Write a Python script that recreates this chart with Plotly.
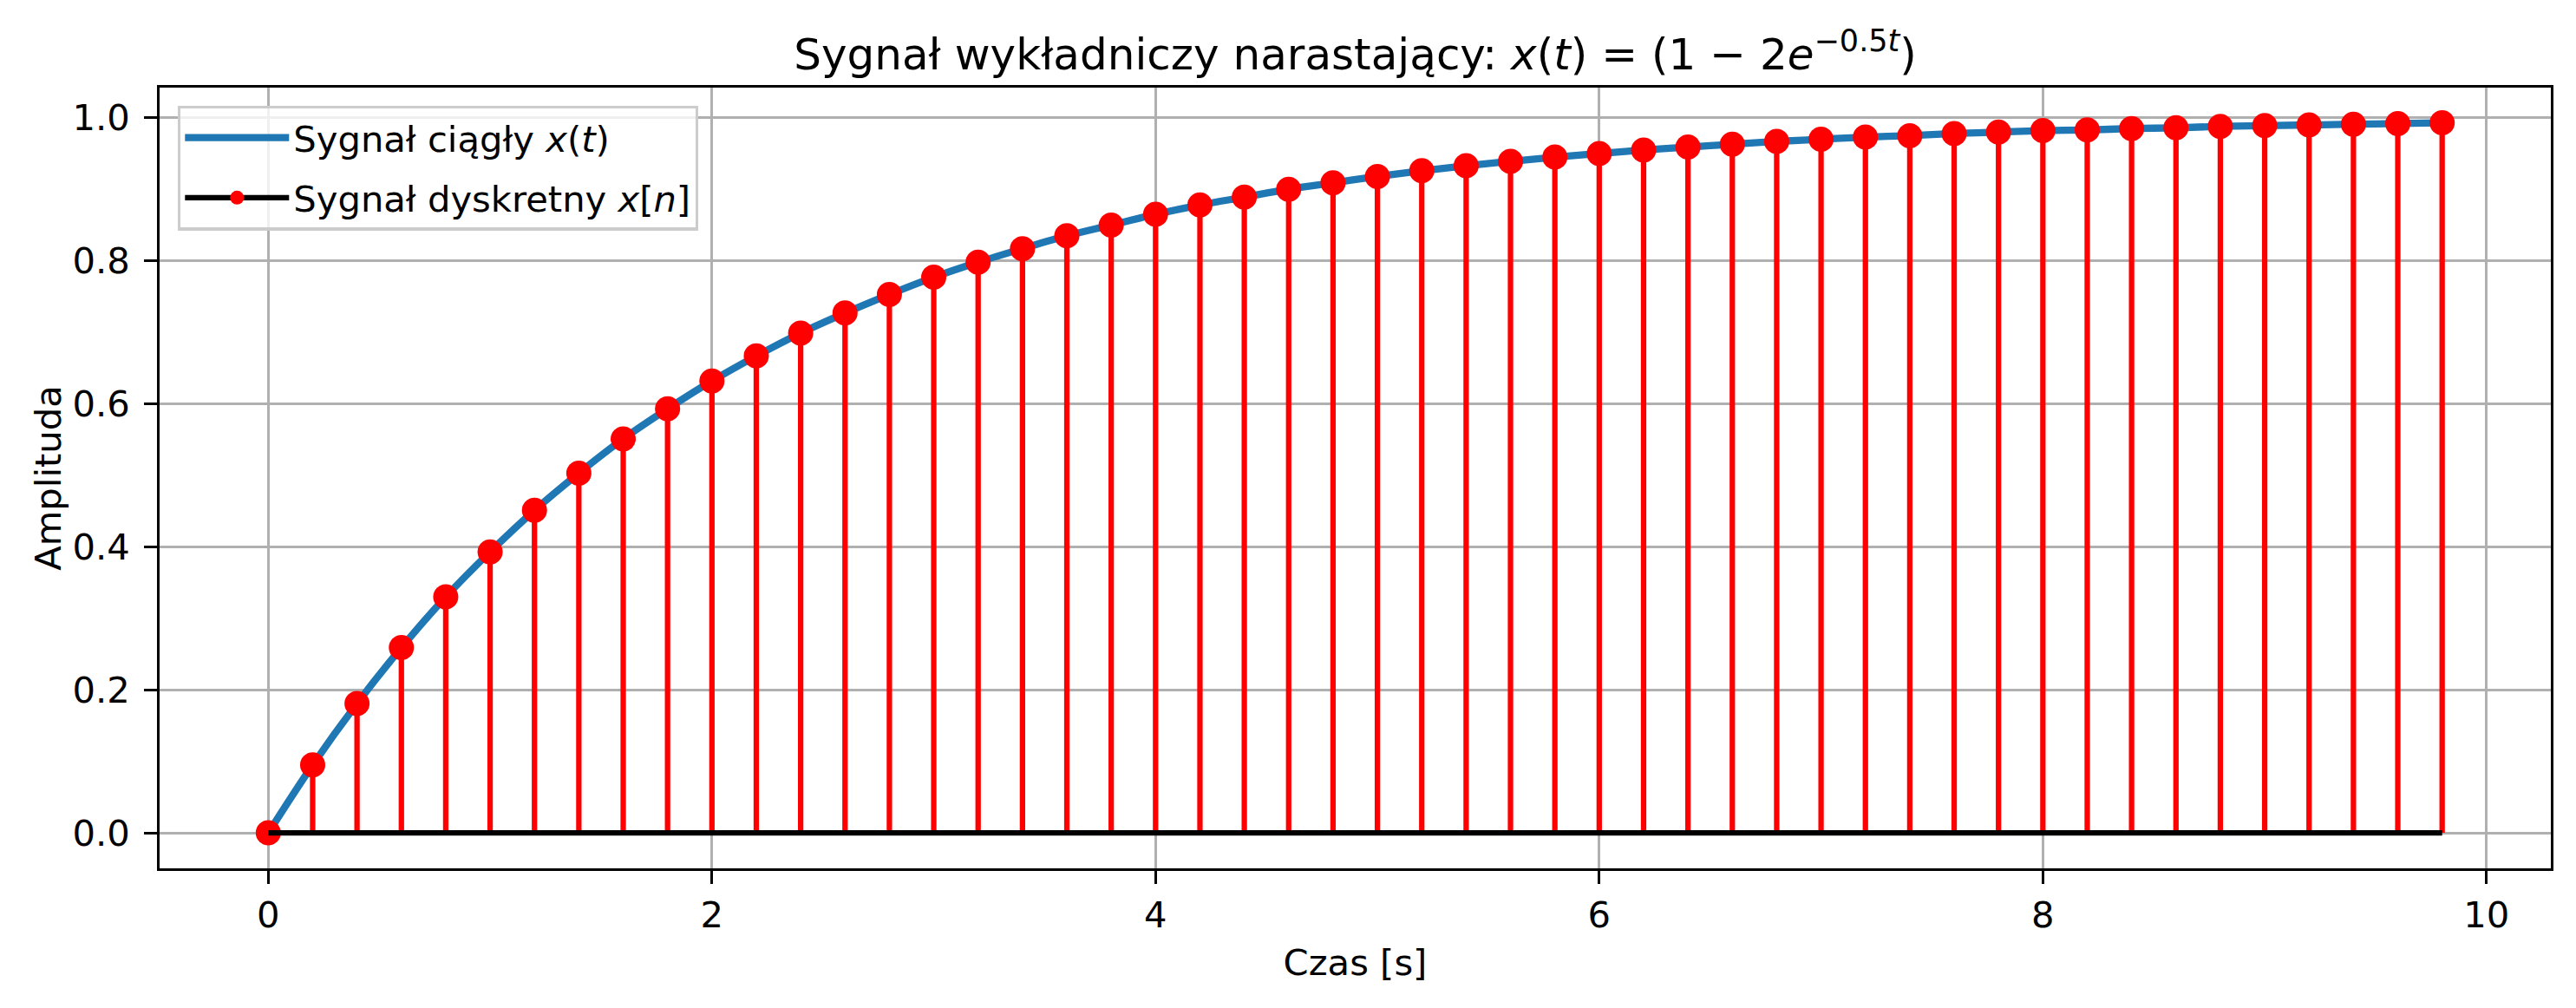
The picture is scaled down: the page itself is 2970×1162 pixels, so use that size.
import plotly.graph_objects as go

# Data
t_values = [0.0, 0.2, 0.4, 0.6, 0.8, 1.0, 1.2, 1.4, 1.6, 1.8,
            2.0, 2.2, 2.4, 2.6, 2.8, 3.0, 3.2, 3.4, 3.6, 3.8,
            4.0, 4.2, 4.4, 4.6, 4.8, 5.0, 5.2, 5.4, 5.6, 5.8,
            6.0, 6.2, 6.4, 6.6, 6.8, 7.0, 7.2, 7.4, 7.6, 7.8,
            8.0, 8.2, 8.4, 8.6, 8.8, 9.0, 9.2, 9.4, 9.6, 9.8]
x_values = [0.000, 0.095, 0.181, 0.259, 0.330, 0.393, 0.451, 0.503, 0.551, 0.593,
            0.632, 0.667, 0.699, 0.727, 0.753, 0.777, 0.798, 0.817, 0.835, 0.850,
            0.865, 0.878, 0.889, 0.900, 0.909, 0.918, 0.926, 0.933, 0.939, 0.945,
            0.950, 0.955, 0.959, 0.963, 0.967, 0.970, 0.973, 0.975, 0.978, 0.980,
            0.982, 0.983, 0.985, 0.986, 0.988, 0.989, 0.990, 0.991, 0.992, 0.993]
x_ticks = [0, 2, 4, 6, 8, 10]
x_tick_labels = ["0", "2", "4", "6", "8", "10"]
y_ticks = [0.0, 0.2, 0.4, 0.6, 0.8, 1.0]
y_tick_labels = ["0.0", "0.2", "0.4", "0.6", "0.8", "1.0"]

FONT = "DejaVu Sans"
FS = 41.7
LW = 3.33

# stems built from the data
stem_x, stem_y = [], []
for tv, xv in zip(t_values, x_values):
    stem_x += [tv, tv, None]
    stem_y += [0, xv, None]

fig = go.Figure()

# continuous signal
fig.add_trace(go.Scatter(
    x=t_values, y=x_values, mode="lines",
    line=dict(color="#1f77b4", width=8.3, shape="spline"),
    name="Sygnał ciągły <i>x</i>(<i>t</i>)", showlegend=True,
    legendgroup="a",
))
# stems
fig.add_trace(go.Scatter(
    x=stem_x, y=stem_y, mode="lines",
    line=dict(color="#ff0000", width=6.25),
    showlegend=False, hoverinfo="skip",
))
# markers
fig.add_trace(go.Scatter(
    x=t_values, y=x_values, mode="markers",
    marker=dict(color="#ff0000", size=29, line=dict(width=0)),
    showlegend=False,
))
# baseline
fig.add_trace(go.Scatter(
    x=[t_values[0], t_values[-1]], y=[0, 0], mode="lines",
    line=dict(color="#000000", width=6.25),
    showlegend=False, hoverinfo="skip",
))
# legend-only entry for the discrete signal
fig.add_trace(go.Scatter(
    x=[None], y=[None], mode="lines+markers",
    line=dict(color="#000000", width=6.25),
    marker=dict(color="#ff0000", size=16),
    name="Sygnał dyskretny <i>x</i>[<i>n</i>]", showlegend=True,
    legendgroup="b",
))

axis_common = dict(
    showline=True, linecolor="black", linewidth=LW, mirror=True,
    ticks="outside", ticklen=14.6, tickwidth=LW, tickcolor="black",
    showgrid=True, gridcolor="#b0b0b0", gridwidth=LW,
    zeroline=False,
    tickfont=dict(family=FONT, size=FS, color="black"),
)

fig.update_xaxes(
    range=[-0.49, 10.29], tickvals=x_ticks, ticktext=x_tick_labels,
    ticklabelstandoff=0,
    title=dict(text="Czas [s]", font=dict(family=FONT, size=FS, color="black"), standoff=18),
    **axis_common,
)
fig.update_yaxes(
    range=[-0.0496, 1.0422], tickvals=y_ticks, ticktext=y_tick_labels,
    ticklabelstandoff=8,
    title=dict(text="Amplituda", font=dict(family=FONT, size=FS, color="black"), standoff=0),
    **axis_common,
)

fig.update_layout(
    width=2970, height=1162,
    margin=dict(l=184, r=29, t=101, b=161, autoexpand=False),
    plot_bgcolor="white", paper_bgcolor="white",
    font=dict(family=FONT, size=FS, color="black"),
    title=dict(
        text="Sygnał wykładniczy narastający: <i>x</i>(<i>t</i>) = (1 − 2<i>e</i><sup>−0.5<i>t</i></sup>)",
        font=dict(family=FONT, size=50, color="black"),
        x=0.5, xref="paper", xanchor="center",
        y=1 - 62 / 1162, yref="container", yanchor="middle",
    ),
    legend=dict(
        x=0.0076, y=0.977, xanchor="left", yanchor="top",
        bgcolor="rgba(255,255,255,0.8)", bordercolor="#cccccc", borderwidth=LW,
        font=dict(family=FONT, size=FS, color="black"),
        itemwidth=120, tracegroupgap=12,
    ),
    showlegend=True,
)

fig.write_html("out.html", config={"displayModeBar": False},
               post_script="document.body.style.margin='0';")
